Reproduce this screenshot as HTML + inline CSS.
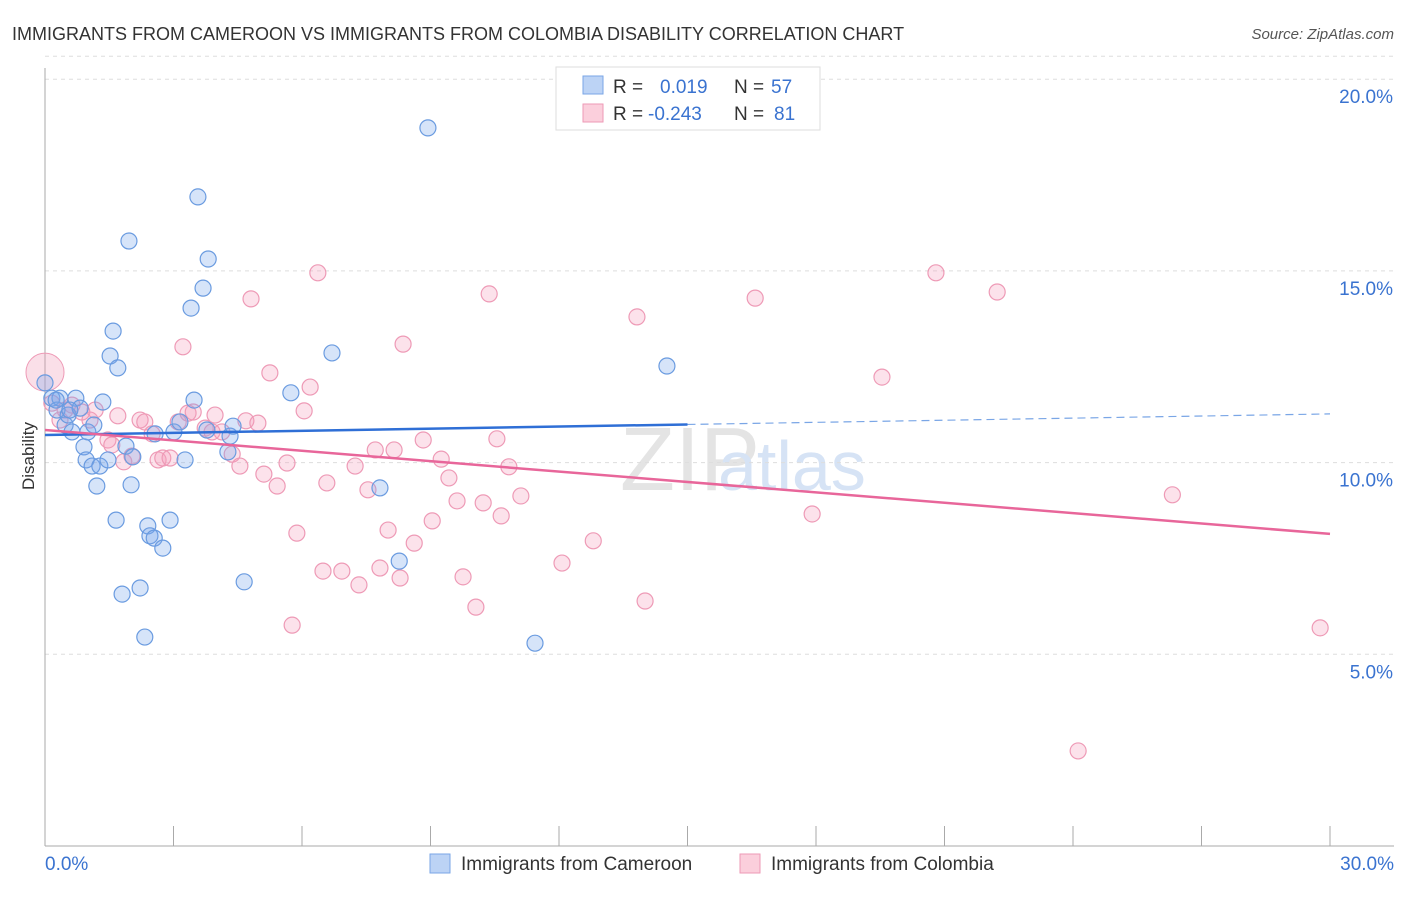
<!DOCTYPE html>
<html><head><meta charset="utf-8"><style>
body{margin:0;background:#fff;font-family:"Liberation Sans",sans-serif;}
svg text{font-family:"Liberation Sans",sans-serif;}
</style></head><body>
<svg id="c" width="1406" height="892" viewBox="0 0 1406 892" xmlns="http://www.w3.org/2000/svg">
<text x="12" y="40" font-size="18" fill="#333">IMMIGRANTS FROM CAMEROON VS IMMIGRANTS FROM COLOMBIA DISABILITY CORRELATION CHART</text>
<text x="1394" y="39" font-size="15" fill="#555" font-style="italic" text-anchor="end">Source: ZipAtlas.com</text>
<text x="620" y="490" font-size="90" fill="#e4e4e4" font-family="Liberation Serif">ZIP</text>
<text x="718" y="490" font-size="70" fill="#d6e3f5">atlas</text>
<g id="grid"></g>
<g id="axes"></g>
<g id="pts"></g>
<g id="trend"></g>
<text transform="translate(34,456) rotate(-90)" font-size="17" fill="#333" text-anchor="middle">Disability</text>
<g>
<rect x="556" y="67" width="264" height="63" fill="#fff" stroke="#ddd"/>
<rect x="583" y="76" width="20" height="18" fill="#bcd3f5" stroke="#7aa6e6"/>
<rect x="583" y="104" width="20" height="18" fill="#fbcfdc" stroke="#ee9ab6"/>
<text x="613" y="93" font-size="19" fill="#333">R = </text><text x="660" y="93" font-size="19" fill="#3a73d0">0.019</text>
<text x="734" y="93" font-size="19" fill="#333">N = </text><text x="771" y="93" font-size="19" fill="#3a73d0">57</text>
<text x="613" y="120" font-size="19" fill="#333">R = </text><text x="648" y="120" font-size="19" fill="#3a73d0">-0.243</text>
<text x="734" y="120" font-size="19" fill="#333">N = </text><text x="774" y="120" font-size="19" fill="#3a73d0">81</text>
</g>
<g>
<rect x="430" y="854" width="20" height="19" fill="#bcd3f5" stroke="#7aa6e6"/>
<text x="461" y="870" font-size="19" fill="#333">Immigrants from Cameroon</text>
<rect x="740" y="854" width="20" height="19" fill="#fbcfdc" stroke="#ee9ab6"/>
<text x="771" y="870" font-size="19" fill="#333">Immigrants from Colombia</text>
</g>
</svg>
<script>
const blueX=[0,0.16,0.28,0.35,0.47,0.54,0.63,0.72,0.82,0.91,0.96,1.0,1.1,1.14,1.21,1.28,1.35,1.47,1.52,1.59,1.66,1.7,1.8,1.89,1.96,2.01,2.05,2.22,2.33,2.4,2.45,2.55,2.57,2.75,2.92,3.01,3.15,3.27,3.41,3.48,3.57,3.69,3.81,3.78,4.27,4.32,4.39,4.65,5.74,6.7,7.82,8.27,8.94,11.44,14.52,0.26,0.58];
const blueY=[12.08,11.68,11.37,11.68,10.98,11.24,10.8,11.68,11.42,10.41,10.07,10.8,9.91,10.98,9.39,9.91,11.58,10.07,12.78,13.43,8.5,12.47,6.57,10.43,15.78,9.42,10.15,6.73,5.45,8.35,8.09,8.03,10.75,7.77,8.5,10.8,11.06,10.07,14.03,11.63,16.93,14.55,15.31,10.85,10.28,10.69,10.95,6.89,11.82,12.86,9.34,7.43,18.73,5.29,12.52,11.63,11.37];
const pinkX=[0.16,0.35,0.47,0.63,0.86,1.05,1.17,1.47,1.56,1.7,1.84,2.03,2.22,2.33,2.5,2.64,2.75,2.92,3.11,3.22,3.34,3.46,3.74,3.9,3.97,4.13,4.37,4.55,4.69,4.81,4.97,5.11,5.25,5.42,5.65,5.88,6.05,6.19,6.37,5.77,6.49,6.58,6.93,7.24,7.33,7.54,7.71,7.82,8.01,8.15,8.29,8.36,8.62,8.83,9.04,9.25,9.43,9.62,9.76,10.06,10.23,10.37,10.55,10.65,10.83,11.11,12.07,12.8,13.82,14.01,16.58,17.91,19.54,20.8,22.23,24.12,26.32,29.77];
const pinkY=[11.55,11.11,11.37,11.5,11.32,11.11,11.37,10.59,10.46,11.22,10.02,10.17,11.11,11.06,10.75,10.07,10.12,10.12,11.06,13.02,11.29,11.32,10.9,10.8,11.24,10.8,10.22,9.91,11.09,14.27,11.03,9.7,12.34,9.39,9.99,8.16,11.35,11.97,14.95,5.76,7.17,9.47,7.17,9.91,6.81,9.29,10.33,7.25,8.24,10.33,6.99,13.09,7.9,10.59,8.48,10.09,9.6,9.0,7.02,6.23,8.95,14.4,10.62,8.61,9.89,9.13,7.38,7.96,13.8,6.39,14.29,8.66,12.23,14.95,14.45,2.48,9.16,5.69];
const yTicks=[5,10,15,20];
const xTickLabels=["0.0%","30.0%"];
const blueTrend=[10.72,11.27];
const pinkTrend=[10.85,8.14];
const NS="http://www.w3.org/2000/svg";
const sx=v=>45+v*1285/30, sy=v=>846-v*38.34;
function mk(t,a,p){const e=document.createElementNS(NS,t);for(const k in a)e.setAttribute(k,a[k]);p.appendChild(e);return e;}
const grid=document.getElementById('grid'),axes=document.getElementById('axes'),pts=document.getElementById('pts'),tr=document.getElementById('trend');
yTicks.forEach(v=>{
 const l=mk('line',{x1:45,x2:1394,y1:sy(v),y2:sy(v),stroke:'#ddd','stroke-dasharray':'4,4'},grid);
 
 
 const t=mk('text',{x:1393,y:sy(v)+24,'font-size':19,fill:'#3a73d0','text-anchor':'end'},axes);
 t.textContent=v.toFixed(1)+'%';
 
 
});
const tl=mk('line',{x1:45,x2:1394,y1:sy(20.6),y2:sy(20.6),stroke:'#ddd','stroke-dasharray':'4,4'},grid);


const ya=mk('line',{x1:45,x2:45,y1:68,y2:846,stroke:'#aaa'},axes);


const xa=mk('line',{x1:45,x2:1394,y1:846,y2:846,stroke:'#aaa'},axes);


for(let i=1;i<=10;i++){const tk=mk('line',{x1:sx(i*3),x2:sx(i*3),y1:826,y2:846,stroke:'#aaa'},axes);
 
 }
[[0,45,'start'],[30,1394,'end']].forEach((d,i)=>{const t=mk('text',{x:d[1],y:870,'font-size':19,fill:'#3a73d0','text-anchor':d[2]},axes);t.textContent=xTickLabels[i];
 
 });
const big=mk('circle',{cx:sx(0),cy:sy(12.36),r:19,fill:'rgba(240,150,180,0.3)',stroke:'#ee9ab6'},pts);


pinkX.forEach((x,i)=>{const c=mk('circle',{cx:sx(x),cy:sy(pinkY[i]),r:8,fill:'rgba(244,160,190,0.3)',stroke:'#ee9ab6','stroke-width':1.2},pts);
 
 });
blueX.forEach((x,i)=>{const c=mk('circle',{cx:sx(x),cy:sy(blueY[i]),r:8,fill:'rgba(120,165,235,0.3)',stroke:'#6a9be0','stroke-width':1.2},pts);
 
 });
const bm=blueTrend[0]+(blueTrend[1]-blueTrend[0])*0.5;
const b1=mk('line',{x1:sx(0),y1:sy(blueTrend[0]),x2:sx(15),y2:sy(bm),stroke:'#2f6fd6','stroke-width':2.5},tr);


const b2=mk('line',{x1:sx(15),y1:sy(bm),x2:sx(30),y2:sy(blueTrend[1]),stroke:'#7aa6e6','stroke-width':1.2,'stroke-dasharray':'8,5'},tr);


const p1=mk('line',{x1:sx(0),y1:sy(pinkTrend[0]),x2:sx(30),y2:sy(pinkTrend[1]),stroke:'#e8669a','stroke-width':2.5},tr);


</script>
</body></html>
